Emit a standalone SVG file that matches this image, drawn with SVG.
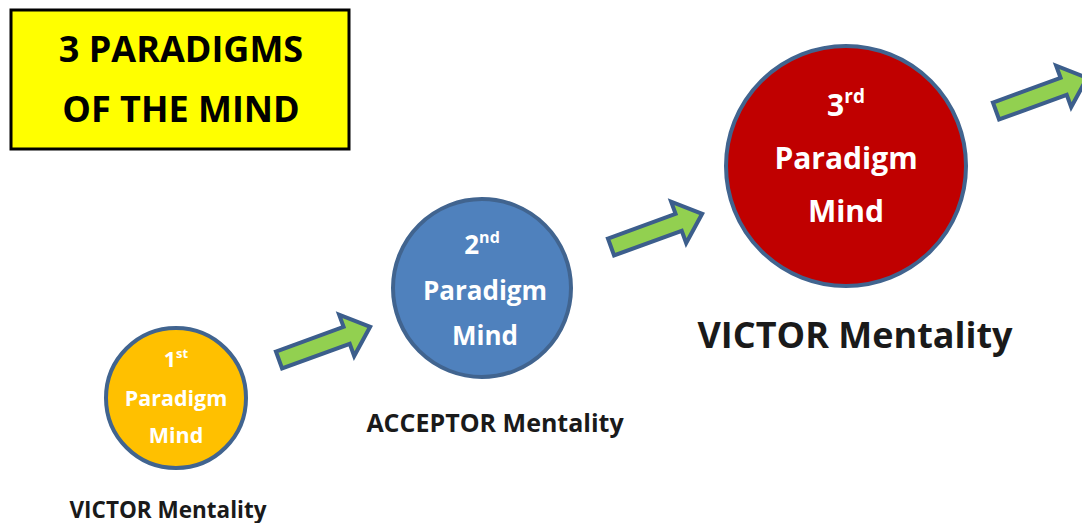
<svg xmlns="http://www.w3.org/2000/svg" width="1082" height="523" viewBox="0 0 1082 523">
<defs>
<style>
text{font-family:"Open Sans",Lato,"Liberation Sans",sans-serif;font-weight:bold;text-anchor:middle}
.w{fill:#ffffff}
.k{fill:#1a1a1a}
.node{stroke:#41648f;stroke-width:4}
.arr{fill:#92d050;stroke:#3c5e8c;stroke-width:4;stroke-linejoin:miter}
</style>
<path id="arrow" d="M0,-9 L72,-9 L72,-22 L97,0 L72,22 L72,9 L0,9 Z"/>
</defs>
<rect x="0" y="0" width="1082" height="523" fill="#ffffff"/>
<g id="title">
<rect x="11" y="10" width="338" height="139" fill="#ffff00" stroke="#000000" stroke-width="3"/>
<text x="181" y="62" font-size="36" fill="#000">3 PARADIGMS</text>
<text x="181" y="122" font-size="36" fill="#000">OF THE MIND</text>
</g>
<g id="connectors">
<use href="#arrow" class="arr" transform="translate(279,360) rotate(-20)"/>
<use href="#arrow" class="arr" transform="translate(611,247) rotate(-20)"/>
<use href="#arrow" class="arr" transform="translate(996,111) rotate(-20)"/>
</g>
<g id="node1">
<circle cx="176" cy="398" r="70" fill="#ffc000" class="node"/>
<text x="176" y="367" font-size="21.5" class="w">1<tspan font-size="13" dy="-9">st</tspan></text>
<text x="176" y="406" font-size="21.5" class="w">Paradigm</text>
<text x="176" y="443" font-size="21.5" class="w">Mind</text>
<text x="168" y="518" font-size="22.5" class="k">VICTOR Mentality</text>
</g>
<g id="node2">
<circle cx="482" cy="288" r="89" fill="#4f81bd" class="node"/>
<text x="482" y="254" font-size="26" class="w">2<tspan font-size="16" dy="-11">nd</tspan></text>
<text x="485" y="300" font-size="26" class="w">Paradigm</text>
<text x="485" y="345" font-size="26" class="w">Mind</text>
<text x="495" y="432" font-size="25" class="k">ACCEPTOR Mentality</text>
</g>
<g id="node3">
<circle cx="846" cy="166" r="120" fill="#c00000" class="node"/>
<text x="846" y="116" font-size="30" class="w">3<tspan font-size="19" dy="-13">rd</tspan></text>
<text x="846" y="169" font-size="30" class="w">Paradigm</text>
<text x="846" y="222" font-size="30" class="w">Mind</text>
<text x="855" y="348" font-size="36" class="k">VICTOR Mentality</text>
</g>
</svg>
